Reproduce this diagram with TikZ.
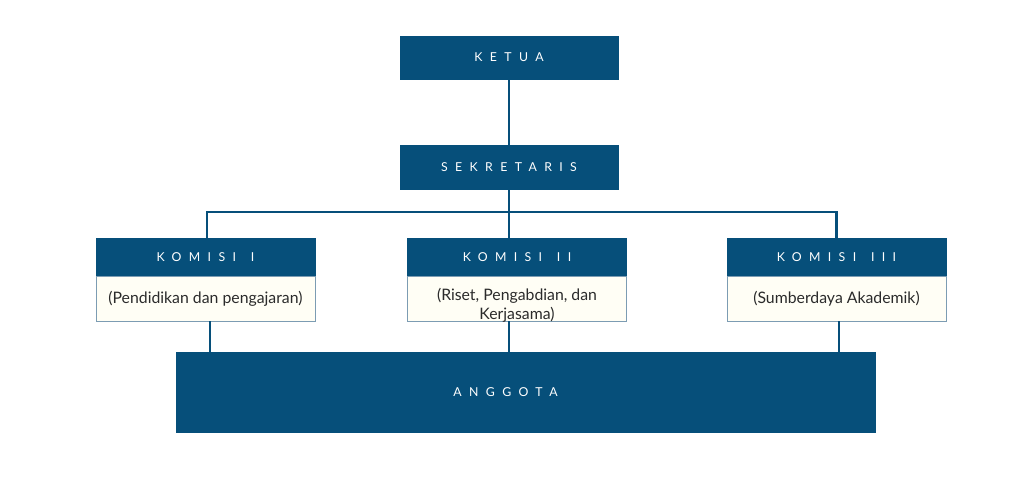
\documentclass[tikz,border=0pt]{standalone}
\usepackage{fontspec}
\setmainfont{Lato}
\newfontfamily\capsfont[LetterSpace=60]{Lato}
\usetikzlibrary{positioning}
\definecolor{navy}{HTML}{064F7A}
\definecolor{cream}{HTML}{FFFEF5}
\definecolor{edge}{HTML}{7C9CB3}
\definecolor{ink}{HTML}{2B2B2B}
\newcommand{\gap}{\hspace{0.35em}}

\begin{document}
\begin{tikzpicture}[x=0.02cm,y=-0.02cm,
  headbox/.style={fill=navy,draw=navy,text=white,inner sep=0pt,
    font=\capsfont\fontsize{7}{8}\selectfont},
  bodybox/.style={fill=cream,draw=edge,line width=.4pt,text=ink,inner sep=0pt,
    align=center,font=\fontsize{9}{11.3}\selectfont,
    minimum width=4.38cm,minimum height=0.9cm},
  link/.style={draw=navy,line width=1.6pt}]
\useasboundingbox (0,0) rectangle (1024,487);
% top of the chart
\node[headbox,minimum width=4.36cm,minimum height=0.86cm] (ketua) at (509,57.5) {KETUA};
\node[headbox,minimum width=4.36cm,minimum height=0.88cm] (sekretaris) at (509,167) {SEKRETARIS};
\coordinate (bus) at (509,212);
% komisi
\node[headbox,minimum width=4.38cm,minimum height=0.76cm] (k1head) at (205.5,257) {KOMISI \gap I};
\node[headbox,minimum width=4.38cm,minimum height=0.76cm] (k2head) at (517,257) {KOMISI \gap II};
\node[headbox,minimum width=4.38cm,minimum height=0.76cm] (k3head) at (836.5,257) {KOMISI \gap III};
\node[bodybox] (k1body) at (205.5,298.5) {(Pendidikan dan pengajaran)};
\node[bodybox] (k2body) at (517,298.5) {\raisebox{-0.23cm}[0pt][0pt]{\begin{tabular}{@{}c@{}}(Riset, Pengabdian, dan\\Kerjasama)\end{tabular}}};
\node[bodybox] (k3body) at (836.5,298.5) {(Sumberdaya Akademik)};
\node[headbox,minimum width=13.98cm,minimum height=1.6cm] (anggota) at (525.5,392) {\hspace*{-0.8cm}ANGGOTA};
% connectors
\draw[link] (ketua.south) -- (sekretaris.north);
\draw[link] (sekretaris.south) -- (bus);
\draw[link] ([xshift=0.03cm]k1head.north) |- (bus) -| (k3head.north);
\draw[link] (bus) -- (bus |- k2head.north);
\draw[link] ([xshift=0.09cm]k1body.south) -- ([xshift=0.09cm]k1body.south |- anggota.north);
\draw[link] (bus |- k2body.south) -- (bus |- anggota.north);
\draw[link] ([xshift=0.05cm]k3body.south) -- ([xshift=0.05cm]k3body.south |- anggota.north);
\end{tikzpicture}
\end{document}
